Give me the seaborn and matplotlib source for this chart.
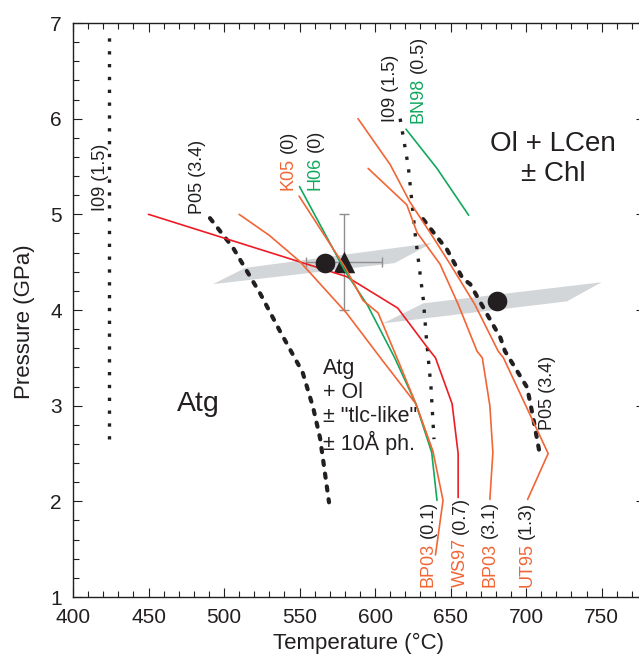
import matplotlib
matplotlib.use('Agg')
import matplotlib.pyplot as plt
from matplotlib.patches import Polygon
from matplotlib.ticker import MultipleLocator
import pandas as pd
import seaborn as sns

# curves: temperature (C) vs pressure (GPa)
i09_left_t = [424, 424]
i09_left_p = [2.65, 6.9]
i09_right_t = [616.6, 622, 626.5, 632, 634, 637, 639]
i09_right_p = [6.0, 5.5, 4.8, 4.1, 3.7, 3.2, 2.65]
p05_left_t = [490.7, 506, 524, 537, 552, 559, 563.6, 569.5]
p05_left_p = [4.96, 4.65, 4.17, 3.78, 3.35, 2.98, 2.66, 1.99]
p05_right_t = [631.8, 639.7, 647.7, 658, 663, 674, 683, 686, 700.7, 704.6, 709]
p05_right_p = [4.95, 4.79, 4.63, 4.33, 4.27, 3.96, 3.71, 3.57, 3.19, 2.88, 2.5]

ws97_t = [450, 581, 615, 635, 640, 651, 655, 655]
ws97_p = [5.0, 4.35, 4.02, 3.6, 3.5, 3.02, 2.5, 2.04]
bp03a_t = [510, 530, 550, 581, 605, 627, 638.5, 645, 640]
bp03a_p = [5.0, 4.78, 4.51, 3.97, 3.47, 3.02, 2.51, 2.01, 1.44]
k05_t = [549.7, 580, 592, 602, 614.5, 627, 638.5]
k05_p = [5.19, 4.45, 4.1, 3.97, 3.5, 3.02, 2.51]
h06_t = [550, 580, 595, 613, 627, 637.5, 641]
h06_p = [5.29, 4.41, 4.05, 3.5, 3.02, 2.51, 2.01]
ut95_t = [588.7, 610, 623, 636.4, 649.7, 666, 681.5, 685, 714.6, 701]
ut95_p = [6.0, 5.52, 5.13, 4.81, 4.48, 4.06, 3.57, 3.5, 2.5, 2.02]
bp03b_t = [595.4, 621, 627.8, 643, 655, 667.5, 671, 676, 678, 676]
bp03b_p = [5.48, 5.1, 4.81, 4.48, 4.06, 3.57, 3.5, 3.0, 2.51, 2.02]
bn98_t = [620.5, 641, 662]
bn98_p = [5.89, 5.48, 4.99]

# experiments
circle_t = [566.9, 681]
circle_p = [4.49, 4.09]
tri_t = [579.5]
tri_p = [4.5]
tri_terr = 25
tri_perr = 0.5

# grey bands (T, P corners)
band1_t = [492.7, 514, 637.7, 613]
band1_p = [4.27, 4.44, 4.70, 4.49]
band2_t = [605.3, 632, 750, 727]
band2_p = [3.86, 4.07, 4.29, 4.09]

orange = '#f26535'
red = '#ee1c24'
green = '#12a85e'
ink = '#231f20'

sns.set_style('ticks')
plt.rcParams['font.family'] = ['Liberation Sans', 'DejaVu Sans']

fig = plt.figure(figsize=(6.39, 6.60), dpi=100)
ax = fig.add_axes([0.11424, 0.09545, 0.8951, 0.8697])

for bt, bp in [(band1_t, band1_p), (band2_t, band2_p)]:
    ax.add_patch(Polygon(list(zip(bt, bp)), closed=True, facecolor='#d3d6d9',
                         edgecolor='none', zorder=1))

def curve(t, p, color, **kw):
    df = pd.DataFrame({'T': t, 'P': p})
    sns.lineplot(data=df, x='T', y='P', sort=False, estimator=None, color=color,
                 ax=ax, legend=False, **kw)

# dotted / dashed reaction boundaries
dot = dict(linewidth=2.4, linestyle=(0, (1, 2.85)), dash_capstyle='butt', zorder=3)
dash = dict(linewidth=3.0, linestyle=(0, (1.0, 2.1)), dash_capstyle='round', zorder=3)
curve(i09_left_t, i09_left_p, ink, **dot)
curve(i09_right_t, i09_right_p, ink, **dot)
curve(p05_left_t, p05_left_p, ink, **dash)
curve(p05_right_t, p05_right_p, ink, **dash)

# error bars + triangle below the coloured lines
ax.errorbar(tri_t, tri_p, xerr=tri_terr, yerr=tri_perr, fmt='none', ecolor='#8e8e8e',
            elinewidth=1.0, capsize=3.5, capthick=1.0, zorder=2)
sns.scatterplot(x=tri_t, y=tri_p, marker='^', s=240, color=ink, edgecolor=ink,
                linewidth=0, ax=ax, zorder=2.5)

thin = dict(linewidth=1.2, zorder=3)
curve(ws97_t, ws97_p, red, **thin)
curve(bp03a_t, bp03a_p, orange, **thin)
curve(h06_t, h06_p, green, **thin)
curve(k05_t, k05_p, orange, **thin)
curve(ut95_t, ut95_p, orange, **thin)
curve(bp03b_t, bp03b_p, orange, **thin)
curve(bn98_t, bn98_p, green, **thin)

sns.scatterplot(x=circle_t, y=circle_p, marker='o', s=200, color=ink, edgecolor=ink,
                linewidth=0, ax=ax, zorder=4)

# curve labels (rotated)
lab_fs = 13

def label(x, y, first, c1, second=None, c2=ink):
    t = ax.text(x, y, first, color=c1, rotation=90, ha='center', va='bottom',
                fontsize=lab_fs, zorder=5)
    if second:
        ax.annotate(second, xy=(0.5, 1), xycoords=t, xytext=(0, 3.5),
                    textcoords='offset points', color=c2, rotation=90,
                    ha='center', va='bottom', fontsize=lab_fs, zorder=5)

label(417.9, 5.03, 'I09 (1.5)', ink)
label(482.7, 5.0, 'P05 (3.4)', ink)
label(542.3, 5.25, 'K05', orange, '(0)')
label(560.2, 5.25, 'H06', green, '(0)')
label(609.9, 5.96, 'I09 (1.5)', ink)
label(628.4, 5.95, 'BN98', green, '(0.5)')
label(714.4, 2.75, 'P05 (3.4)', ink)
label(635.0, 1.10, 'BP03', orange, '(0.1)')
label(656.2, 1.10, 'WS97', orange, '(0.7)')
label(676.0, 1.10, 'BP03', orange, '(3.1)')
label(700.5, 1.10, 'UT95', orange, '(1.3)')

# field labels
ax.text(483, 2.94, 'Atg', fontsize=20.5, color=ink, ha='center', va='baseline')
ax.text(565.5, 3.50, 'Atg\n+ Ol\n± "tlc-like"\n± 10Å ph.', fontsize=15.5,
        color=ink, ha='left', va='top')
ax.text(717.7, 5.58, 'Ol + LCen\n± Chl', fontsize=20, color=ink, ha='center',
        va='center', multialignment='center')

ax.set_xlim(400, 778.7)
ax.set_ylim(1, 7)
ax.xaxis.set_major_locator(MultipleLocator(50))
ax.xaxis.set_minor_locator(MultipleLocator(10))
ax.yaxis.set_major_locator(MultipleLocator(1))
ax.yaxis.set_minor_locator(MultipleLocator(0.2))
ax.tick_params(which='both', direction='in', top=True, right=True, colors=ink,
               width=0.8, labelsize=15, pad=8)
ax.tick_params(which='major', length=6.5)
ax.tick_params(which='minor', length=4)
for s in ax.spines.values():
    s.set_linewidth(1.0)
    s.set_color(ink)

ax.set_xlabel('Temperature (°C)', fontsize=16, color=ink)
ax.set_ylabel('Pressure (GPa)', fontsize=16, color=ink)
ax.xaxis.set_label_coords(0.5, -0.062)
ax.yaxis.set_label_coords(-0.066, 0.479)

fig.savefig('out.png', dpi=100)
